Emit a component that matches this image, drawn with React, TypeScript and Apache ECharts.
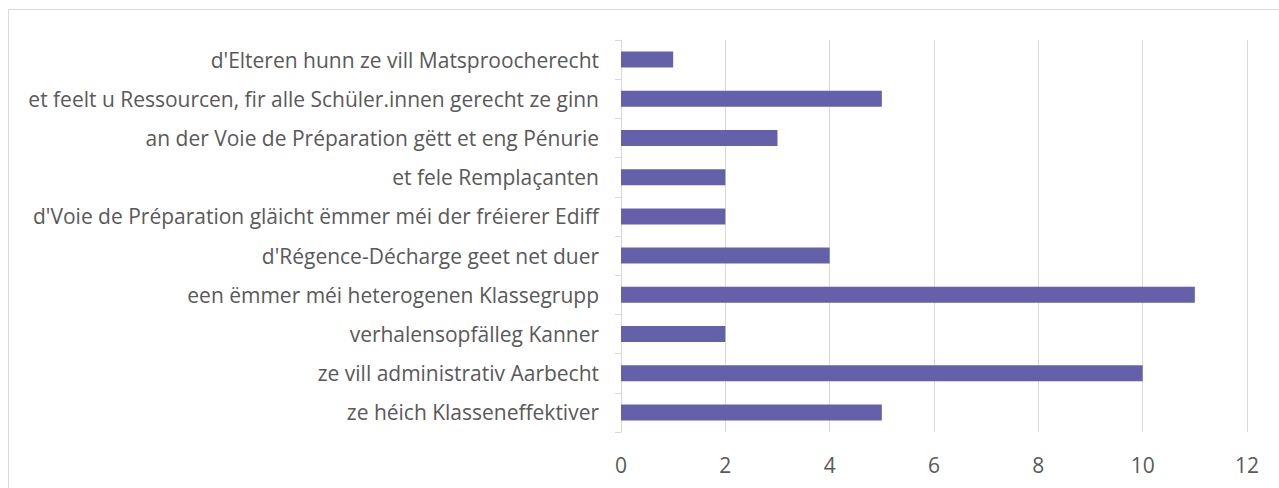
import React, { useEffect, useRef } from "react";
import * as echarts from "echarts";

const categories = [
  "ze héich Klasseneffektiver",
  "ze vill administrativ Aarbecht",
  "verhalensopfälleg Kanner",
  "een ëmmer méi heterogenen Klassegrupp",
  "d'Régence-Décharge geet net duer",
  "d'Voie de Préparation gläicht ëmmer méi der fréierer Ediff",
  "et fele Remplaçanten",
  "an der Voie de Préparation gëtt et eng Pénurie",
  "et feelt u Ressourcen, fir alle Schüler.innen gerecht ze ginn",
  "d'Elteren hunn ze vill Matsproocherecht",
];
const values = [5, 10, 2, 11, 4, 2, 2, 3, 5, 1];
const xMin = 0;
const xMax = 12;
const xInterval = 2;

export default function App() {
  const ref = useRef<HTMLDivElement>(null);
  useEffect(() => {
    document.body.style.margin = "0";
    document.body.style.overflow = "hidden";
    const font = "'Open Sans', Lato, sans-serif";
    let fontSize = 19;
    try {
      const c = document.createElement("canvas").getContext("2d")!;
      c.font = `100px ${font}`;
      const longest = categories.reduce((a, b) => (b.length > a.length ? b : a));
      const w = c.measureText(longest).width;
      if (w > 0) fontSize = Math.max(14, Math.min(24, (100 * 571) / w));
    } catch (e) {}
    const chart = echarts.init(ref.current!, null, { renderer: "svg" });
    chart.setOption({
      animation: false,
      textStyle: { fontFamily: font },
      graphic: [
        {
          type: "rect",
          shape: { x: 8.5, y: 9.5, width: 1300, height: 500 },
          style: { fill: "none", stroke: "#d9d9d9", lineWidth: 1 },
          silent: true,
        },
      ],
      grid: { left: 621, right: 32, top: 40, bottom: 56, containLabel: false },
      xAxis: {
        type: "value",
        min: xMin,
        max: xMax,
        interval: xInterval,
        axisLine: { show: false },
        axisTick: { show: false },
        splitLine: { show: true, lineStyle: { color: "#d9d9d9", width: 1 } },
        axisLabel: { color: "#595959", fontSize, fontFamily: font, margin: 22 },
      },
      yAxis: {
        type: "category",
        data: categories,
        axisLine: { show: true, lineStyle: { color: "#d9d9d9", width: 1 } },
        axisTick: { show: true, length: 6, lineStyle: { color: "#d9d9d9" } },
        axisLabel: { color: "#595959", fontSize, fontFamily: font, margin: 22 },
      },
      series: [
        {
          type: "bar",
          data: values,
          barWidth: 16,
          itemStyle: { color: "#6460aa" },
        },
      ],
    });
    return () => chart.dispose();
  }, []);
  return <div ref={ref} style={{ width: 1279, height: 488 }} />;
}
